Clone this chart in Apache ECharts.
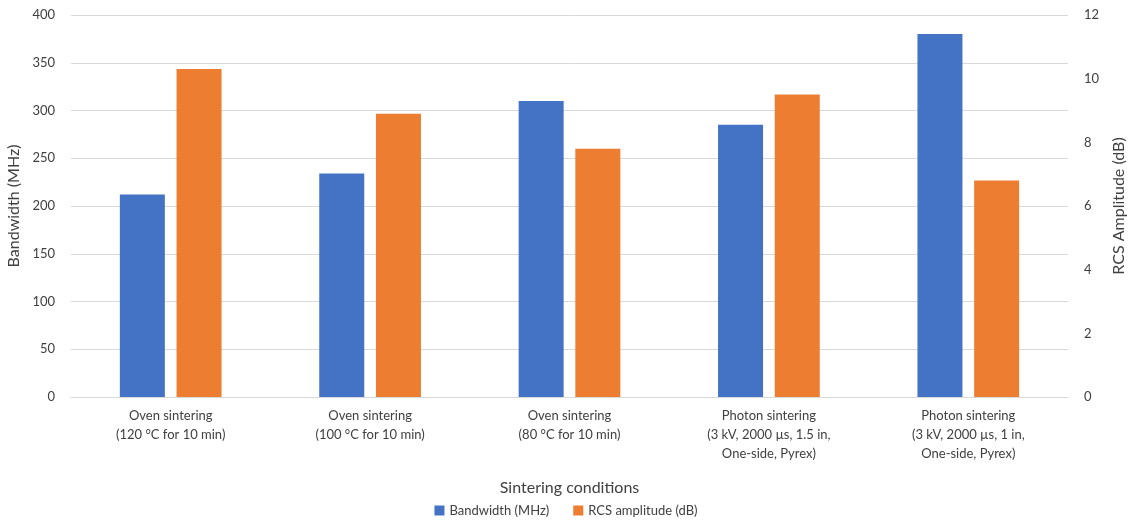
<!DOCTYPE html>
<html>
<head>
<meta charset="utf-8">
<script src="https://cdn.jsdelivr.net/npm/echarts@6/dist/echarts.min.js"></script>
<style>
  html, body { margin: 0; padding: 0; background: #fff; }
  #chart { width: 1132px; height: 524px; }
</style>
</head>
<body>
<div id="chart"></div>
<script>
// Sintering conditions on the category axis
const categories = [
  'Oven sintering\n(120 °C for 10 min)',
  'Oven sintering\n(100 °C for 10 min)',
  'Oven sintering\n(80 °C for 10 min)',
  'Photon sintering\n(3 kV, 2000 µs, 1.5 in,\nOne-side, Pyrex)',
  'Photon sintering\n(3 kV, 2000 µs, 1 in,\nOne-side, Pyrex)'
];
// Bandwidth in MHz (left axis)
const bandwidth = [212, 234, 310, 285, 380];
// RCS amplitude in dB (right axis)
const rcsAmplitude = [10.3, 8.9, 7.8, 9.5, 6.8];

const FONT = 'Lato, "Open Sans", sans-serif';
const TEXT = '#404040';

const chart = echarts.init(document.getElementById('chart'), null, { renderer: 'canvas' });
chart.setOption({
  animation: false,
  textStyle: { fontFamily: FONT },
  grid: { left: 71, right: 64, top: 15, bottom: 127, containLabel: false, outerBoundsMode: 'none' },
  legend: {
    bottom: 2,
    left: 'center',
    itemWidth: 10,
    itemHeight: 10,
    itemGap: 24,
    icon: 'rect',
    textStyle: { fontFamily: FONT, fontSize: 13, color: TEXT },
    data: ['Bandwidth (MHz)', 'RCS amplitude (dB)']
  },
  xAxis: {
    type: 'category',
    data: categories,
    name: 'Sintering conditions',
    nameLocation: 'middle',
    nameGap: 83,
    nameTextStyle: { fontFamily: FONT, fontSize: 16, color: TEXT },
    axisLine: { lineStyle: { color: '#d9d9d9', width: 1 } },
    axisTick: { show: false },
    axisLabel: { fontFamily: FONT, fontSize: 13, color: TEXT, lineHeight: 19, margin: 9, interval: 0 }
  },
  yAxis: [
    {
      type: 'value',
      min: 0, max: 400, interval: 50,
      name: 'Bandwidth (MHz)',
      nameLocation: 'middle',
      nameGap: 42,
      nameTextStyle: { fontFamily: FONT, fontSize: 16, color: TEXT },
      axisLine: { show: false },
      axisTick: { show: false },
      axisLabel: { fontFamily: FONT, fontSize: 13, color: TEXT, margin: 16 },
      splitLine: { lineStyle: { color: '#d9d9d9', width: 1 } }
    },
    {
      type: 'value',
      min: 0, max: 12, interval: 2,
      name: 'RCS Amplitude (dB)',
      nameLocation: 'middle',
      nameGap: 43,
      nameTextStyle: { fontFamily: FONT, fontSize: 16, color: TEXT },
      axisLine: { show: false },
      axisTick: { show: false },
      axisLabel: { fontFamily: FONT, fontSize: 13, color: TEXT, margin: 16 },
      splitLine: { show: false }
    }
  ],
  series: [
    {
      name: 'Bandwidth (MHz)',
      type: 'bar',
      data: bandwidth,
      yAxisIndex: 0,
      barWidth: 45,
      barGap: '26%',
      itemStyle: { color: '#4472C4' }
    },
    {
      name: 'RCS amplitude (dB)',
      type: 'bar',
      data: rcsAmplitude,
      yAxisIndex: 1,
      barWidth: 45,
      barGap: '26%',
      itemStyle: { color: '#ED7D31' }
    }
  ]
});
</script>
</body>
</html>
